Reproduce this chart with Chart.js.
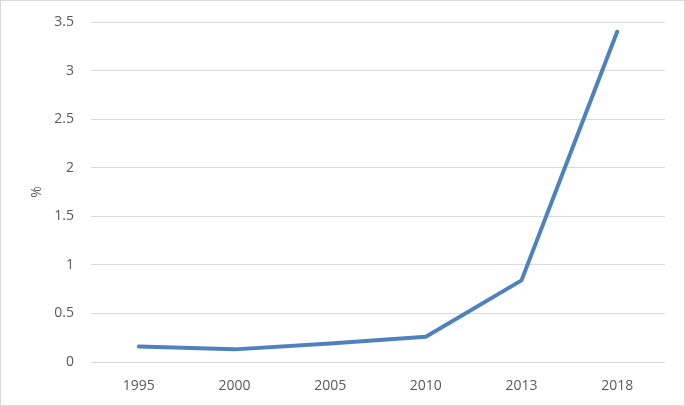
<!DOCTYPE html>
<html>
<head>
<meta charset="utf-8">
<script src="https://cdn.jsdelivr.net/npm/chart.js@4.4.0/dist/chart.umd.min.js"></script>
<style>
    html, body { margin: 0; padding: 0; background: #fff; }
    #wrap { width: 685px; height: 406px; box-sizing: border-box; border: 1px solid #d9d9d9; position: relative; }
    canvas { position: absolute; left: 0; top: 0; }
</style>
</head>
<body>
<div id="wrap"><canvas id="grafico" width="683" height="404"></canvas></div>
<script>
const anos = ['1995', '2000', '2005', '2010', '2013', '2018'];
const percentual = [0.16, 0.13, 0.19, 0.26, 0.84, 3.4];

const corTexto = '#595959';
const corGrade = '#d9d9d9';

const ctx = document.getElementById('grafico').getContext('2d');
new Chart(ctx, {
    type: 'line',
    data: {
        labels: anos,
        datasets: [{
            data: percentual,
            borderColor: '#4f81bd',
            backgroundColor: '#4f81bd',
            borderWidth: 4,
            borderCapStyle: 'round',
            borderJoinStyle: 'round',
            pointRadius: 0,
            tension: 0,
            fill: false
        }]
    },
    options: {
        responsive: false,
        animation: false,
        devicePixelRatio: 1,
        layout: { padding: { top: 21, right: 19, bottom: 0, left: 0 } },
        plugins: {
            legend: { display: false },
            tooltip: { enabled: false }
        },
        scales: {
            x: {
                offset: true,
                grid: { display: false },
                border: { display: false },
                ticks: {
                    color: corTexto,
                    padding: 8,
                    font: { family: 'Open Sans', size: 14 }
                },
                afterFit: scale => { scale.height = 43; }
            },
            y: {
                min: 0,
                max: 3.5,
                ticks: {
                    stepSize: 0.5,
                    color: corTexto,
                    padding: 17,
                    font: { family: 'Open Sans', size: 14 },
                    callback: valor => String(valor)
                },
                grid: { color: corGrade, drawTicks: false, lineWidth: 1 },
                border: { display: false },
                title: {
                    display: true,
                    text: '%',
                    color: corTexto,
                    padding: { top: 28, bottom: 0 },
                    font: { family: 'Open Sans', size: 14 }
                },
                afterFit: scale => {
                    scale.width = 90;
                    scale.paddingTop = 0;
                    scale.paddingBottom = 0;
                }
            }
        }
    }
});
</script>
</body>
</html>
